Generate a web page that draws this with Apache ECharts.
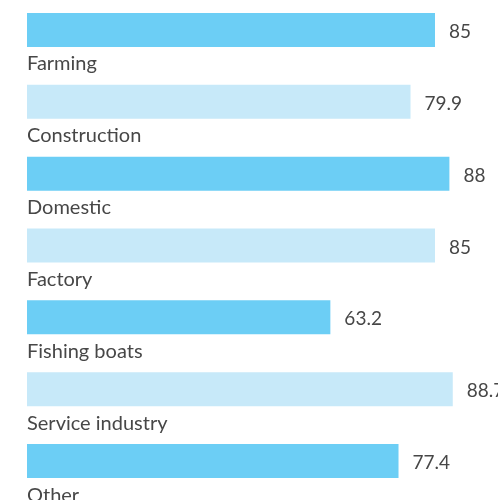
<!DOCTYPE html>
<html>
<head>
<meta charset="utf-8">
<script src="https://cdn.jsdelivr.net/npm/echarts@6/dist/echarts.min.js"></script>
<style>
  html, body { margin: 0; padding: 0; background: #ffffff; }
  #chart { width: 498px; height: 500px; }
</style>
</head>
<body>
<div id="chart"></div>
<script>
// Categories, top to bottom
const categories = ['Farming', 'Construction', 'Domestic', 'Factory', 'Fishing boats', 'Service industry', 'Other'];
// Share values per category
const values = [85, 79.9, 88, 85, 63.2, 88.7, 77.4];
// Alternating bar fills
const barColors = ['#6ccef5', '#c7e9f9'];

const chart = echarts.init(document.getElementById('chart'));

chart.setOption({
  animation: false,
  backgroundColor: '#ffffff',
  grid: {
    left: 27, top: -6, width: 480, height: 503,
    containLabel: false,
    outerBoundsMode: 'none'
  },
  xAxis: {
    type: 'value',
    min: 0,
    max: 100,
    show: false
  },
  yAxis: {
    type: 'category',
    data: categories,
    inverse: true,
    axisLine: { show: false },
    axisTick: { show: false },
    splitLine: { show: false },
    axisLabel: {
      inside: true,
      margin: 0,
      interval: 0,
      align: 'left',
      verticalAlign: 'top',
      padding: [24, 0, 0, 0],
      fontFamily: 'Lato',
      fontSize: 20,
      lineHeight: 20,
      color: '#474747'
    },
    z: 5
  },
  series: [{
    type: 'bar',
    data: values.map((v, i) => ({ value: v, itemStyle: { color: barColors[i % 2] } })),
    barWidth: 34,
    label: {
      show: true,
      position: 'right',
      distance: 14,
      offset: [0, 2],
      fontFamily: 'Lato',
      fontSize: 19,
      color: '#474747'
    }
  }]
});
</script>
</body>
</html>
